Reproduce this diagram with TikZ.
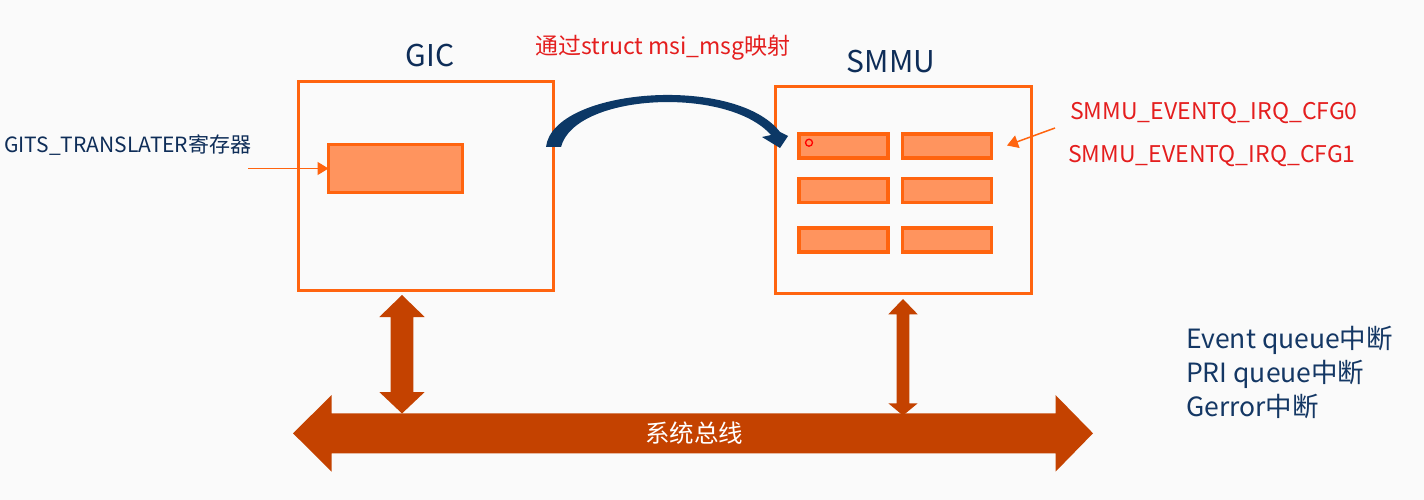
\documentclass[tikz,border=0pt]{standalone}
\usepackage{fontspec}
\setmainfont{Noto Sans CJK SC}
\usetikzlibrary{arrows.meta}
\definecolor{bg}{RGB}{250,250,250}
\definecolor{boxor}{RGB}{255,100,15}
\definecolor{regfill}{RGB}{255,148,94}
\definecolor{busc}{RGB}{196,66,0}
\definecolor{navy}{RGB}{14,45,88}
\definecolor{navyb}{RGB}{20,55,100}
\definecolor{redtxt}{RGB}{228,30,30}
\definecolor{curvec}{RGB}{12,56,102}
\tikzset{
  bigbox/.style={draw=boxor, line width=3pt, fill=none, inner sep=0pt, outer sep=0pt},
  regbox/.style={draw=boxor, line width=3.2pt, fill=regfill, inner sep=0pt, outer sep=0pt},
  thinarrow/.style={draw=boxor, line width=1.5pt, -{Triangle[length=11pt,width=13pt]}},
  title/.style={text=navy, font=\fontsize{30}{32}\selectfont, inner sep=0pt, anchor=base},
  redlbl/.style={text=redtxt, font=\fontsize{23}{25}\selectfont, inner sep=0pt, anchor=base west},
  navylbl/.style={text=navyb, font=\fontsize{26.5}{28}\selectfont, inner sep=0pt, anchor=base west},
}
\begin{document}
\begin{tikzpicture}[x=1pt,y=-1pt]
\fill[bg] (0,0) rectangle (1424,500);
\useasboundingbox (0,0) rectangle (1424,500);

% boxes
\node[bigbox, minimum width=255pt, minimum height=208pt] (gic) at (425.5,186) {};
\node[bigbox, minimum width=256pt, minimum height=206pt] (smmu) at (903,190) {};
\node[title] (gict) at (430,67) {GIC};
\node[title] (smmut) at (891,73) {SMMU};

% GIC register
\node[regbox, minimum width=134pt, minimum height=48pt] (gicreg) at (395.5,168.5) {};

% SMMU registers
\node[regbox, minimum width=89pt, minimum height=24pt] (r11) at (843.5,146) {};
\node[regbox, minimum width=89pt, minimum height=24pt] (r12) at (947,146) {};
\node[regbox, minimum width=89pt, minimum height=24pt] (r21) at (843.5,190.5) {};
\node[regbox, minimum width=89pt, minimum height=24pt] (r22) at (947,190.5) {};
\node[regbox, minimum width=89pt, minimum height=24pt] (r31) at (843.5,240) {};
\node[regbox, minimum width=89pt, minimum height=24pt] (r32) at (947,240) {};
\node[circle, draw=red, line width=1.3pt, minimum size=7pt, inner sep=0pt] (dot) at (809,142.7) {};

% left label and arrow
\node[text=navy, font=\fontsize{21}{23}\selectfont, inner sep=0pt, anchor=base west] (gits) at (4,153) {GITS\_TRANSLATER寄存器};
\coordinate (gitsfrom) at (248,168.5);
\draw[thinarrow] (gitsfrom) -- (gicreg.west);

% right register labels and arrow
\node[redlbl] (cfg0) at (1070,120) {SMMU\_EVENTQ\_IRQ\_CFG0};
\node[redlbl] (cfg1) at (1068,162) {SMMU\_EVENTQ\_IRQ\_CFG1};
\coordinate (cfgfrom) at (1055,128);
\coordinate (cfgto) at (1007,145.5);
\draw[thinarrow] (cfgfrom) -- (cfgto);

% top mapping label and curved arrow
\node[redlbl] (maplbl) at (535,55) {通过struct msi\_msg映射};
\fill[curvec] (546,147) .. controls (553,88) and (735,74) .. (780,132)
  -- (788,136) -- (780,148) -- (762,137) -- (771,135)
  .. controls (728,86) and (575,93) .. (561,147) -- cycle;

% system bus
\fill[busc] (293,433.3) -- (331.7,395) -- (331.7,413.3) -- (1055.5,413.3) -- (1055.5,395)
  -- (1093,433.3) -- (1055.5,471.7) -- (1055.5,453.3) -- (331.7,453.3) -- (331.7,471.7) -- cycle;
\node[text=white, font=\fontsize{24.5}{26}\selectfont, inner sep=0pt] (bus) at (694,433.3) {系统总线};

% vertical double arrows
\fill[busc] (402,295) -- (424.7,317) -- (413.3,317) -- (413.3,392) -- (424.7,392) -- (402,413.5)
  -- (379.3,392) -- (390.7,392) -- (390.7,317) -- (379.3,317) -- cycle;
\fill[busc] (903,299) -- (917.7,314.3) -- (909.3,314.3) -- (909.3,403.3) -- (917.7,403.3) -- (903,415.5)
  -- (888.3,403.3) -- (896.7,403.3) -- (896.7,314.3) -- (888.3,314.3) -- cycle;

% interrupt list
\node[navylbl] (ev) at (1186,348) {Event queue中断};
\node[navylbl] (pri) at (1186,382) {PRI queue中断};
\node[navylbl] (gerr) at (1186,416) {Gerror中断};
\end{tikzpicture}
\end{document}
